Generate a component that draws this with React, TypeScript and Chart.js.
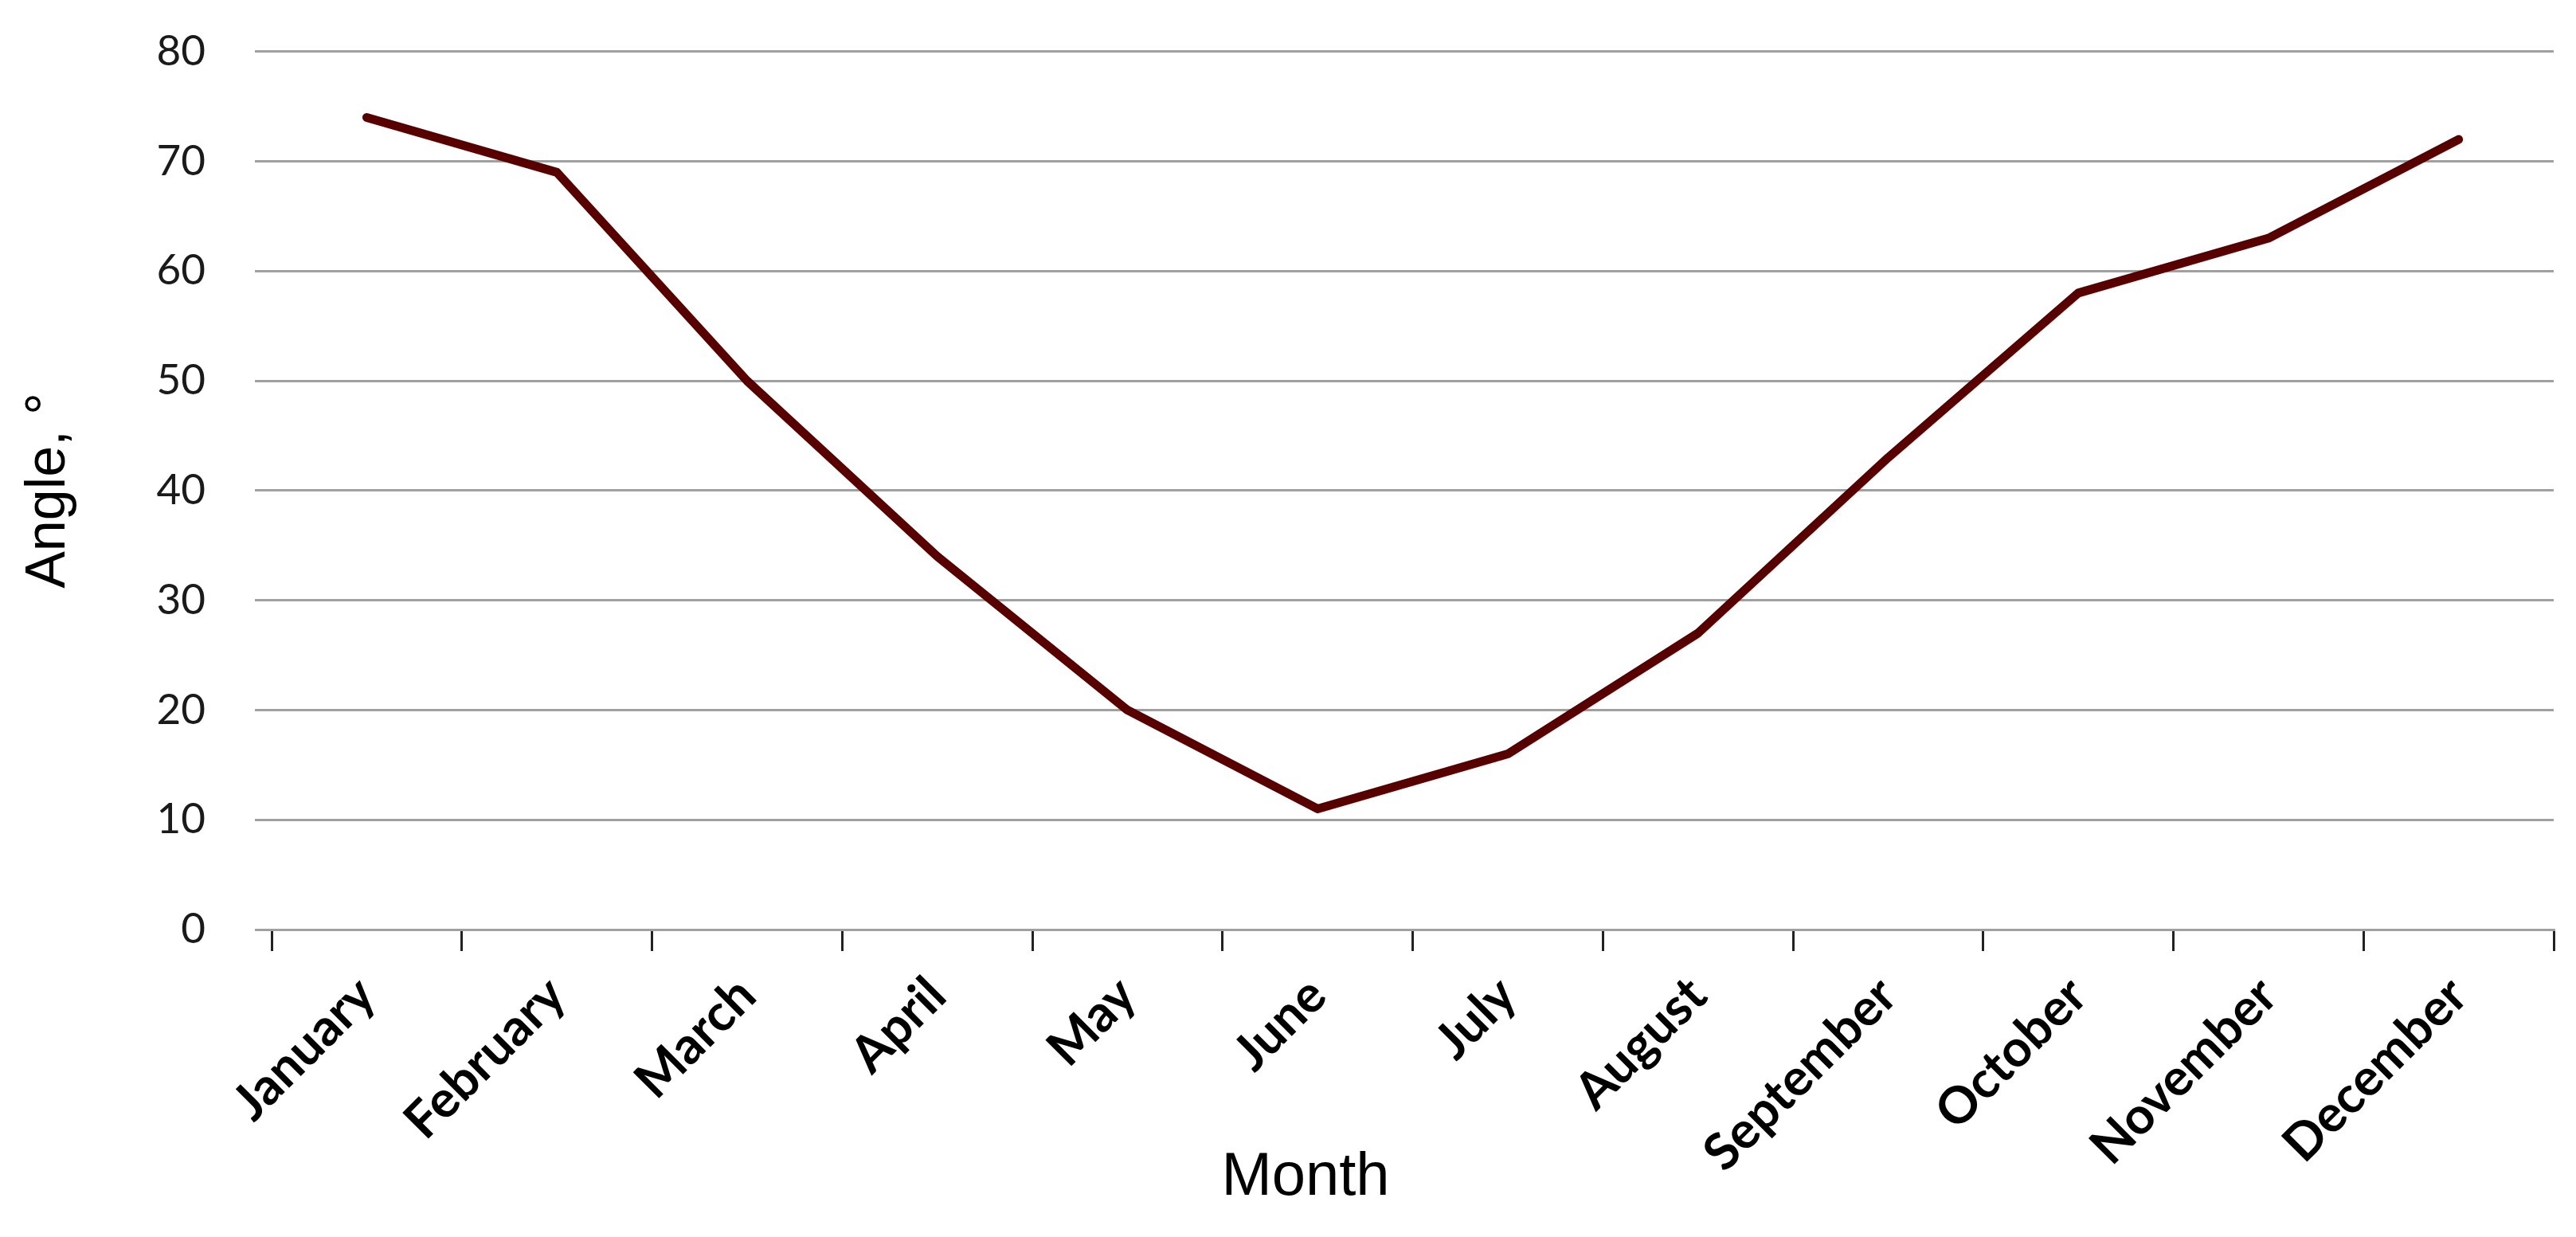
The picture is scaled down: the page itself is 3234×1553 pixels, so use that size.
import React, { useEffect, useRef } from "react";
import { Chart, registerables } from "chart.js";

Chart.register(...registerables);

const months = [
  "January", "February", "March", "April", "May", "June",
  "July", "August", "September", "October", "November", "December",
];
const angles = [74, 69, 50, 34, 20, 11, 16, 27, 43, 58, 63, 72];
const yMin = 0;
const yMax = 80;
const yStep = 10;
const xTitle = "Month";
const yTitle = "Angle, °";

const W = 3234;
const H = 1553;

const xTitlePlugin = {
  id: "xTitlePlugin",
  afterDraw(chart: any) {
    const ctx = chart.ctx;
    const area = chart.chartArea;
    ctx.save();
    ctx.font = "76px 'Liberation Sans', Arial, sans-serif";
    ctx.fillStyle = "#000000";
    ctx.textAlign = "center";
    ctx.textBaseline = "middle";
    ctx.fillText(xTitle, chart.width / 2 + 22, area.bottom + 312);
    ctx.restore();
  },
};

export default function App() {
  const ref = useRef<HTMLCanvasElement | null>(null);

  useEffect(() => {
    if (!ref.current) return;
    const chart = new Chart(ref.current, {
      type: "line",
      data: {
        labels: months,
        datasets: [
          {
            label: yTitle,
            data: angles,
            borderColor: "#580000",
            backgroundColor: "#580000",
            borderWidth: 11,
            pointRadius: 0,
            pointHoverRadius: 0,
            tension: 0,
            borderJoinStyle: "round",
            borderCapStyle: "round",
            fill: false,
          },
        ],
      },
      options: {
        animation: false,
        responsive: true,
        maintainAspectRatio: false,
        layout: { padding: { top: 0, right: 28, left: 0, bottom: 0 } },
        plugins: {
          legend: { display: false },
          tooltip: { enabled: false },
        },
        scales: {
          x: {
            type: "category",
            offset: true,
            grid: {
              offset: true,
              drawOnChartArea: false,
              drawTicks: true,
              tickLength: 27,
              color: "#222222",
              lineWidth: 3,
            },
            border: { display: true, color: "#a0a0a0", width: 3 },
            ticks: {
              autoSkip: false,
              maxRotation: 45,
              minRotation: 45,
              padding: 18,
              color: "#000000",
              font: { family: "Lato, 'Open Sans', sans-serif", size: 64, weight: "bold" },
            },
            title: { display: false },
            afterFit(scale: any) {
              scale.height = 386;
            },
          },
          y: {
            min: yMin,
            max: yMax,
            ticks: {
              stepSize: yStep,
              padding: 62,
              color: "#1a1a1a",
              font: { family: "Lato, 'Open Sans', sans-serif", size: 53 },
            },
            grid: {
              color: "#a0a0a0",
              lineWidth: 3,
              drawTicks: true,
              tickLength: 21,
            },
            border: { display: false },
            title: {
              display: true,
              text: yTitle,
              color: "#000000",
              font: { family: "'Liberation Sans', Arial, sans-serif", size: 70 },
              padding: { top: 20, bottom: 0 },
            },
            afterFit(scale: any) {
              scale.width = 341;
            },
          },
        },
      },
      plugins: [xTitlePlugin],
    });
    return () => chart.destroy();
  }, []);

  return (
    <div style={{ position: "fixed", left: 0, top: 0, width: W, height: H, overflow: "hidden", background: "#ffffff" }}>
      <div style={{ position: "absolute", left: 0, top: -29, width: W, height: H + 29 }}>
        <canvas ref={ref} />
      </div>
    </div>
  );
}
